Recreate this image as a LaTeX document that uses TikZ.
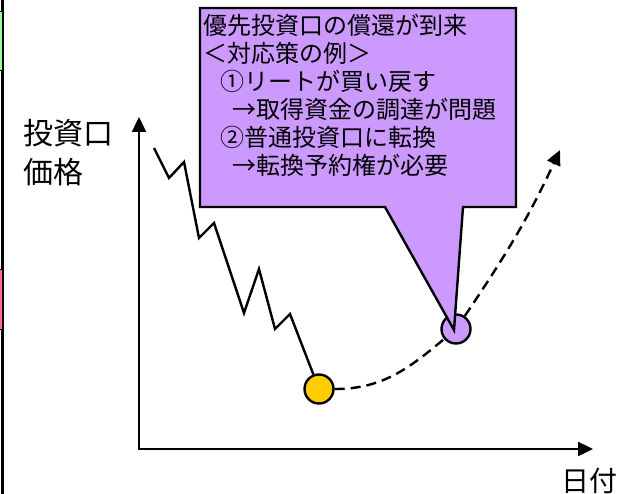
\documentclass[tikz,border=0pt]{standalone}
\usepackage{fontspec}
\setmainfont{Noto Sans CJK JP}
\usetikzlibrary{arrows.meta}
\definecolor{notepurple}{HTML}{CC99FF}
\definecolor{dotyellow}{HTML}{FFCC00}
\definecolor{edgegreen}{HTML}{99FF99}
\definecolor{edgepink}{HTML}{FF6699}
\def\tipsize{Triangle[length=15pt,width=14pt]}
\def\dotsize{29pt}

\begin{document}
\begin{tikzpicture}[x=1pt,y=-1pt,line width=2.4pt]
    \useasboundingbox (0,0) rectangle (628,494);

    % cut edges on the left
    \draw (2.5,0) -- (2.5,494);
    \filldraw[fill=edgegreen,line width=1pt] (-2,12) rectangle (2.5,71);
    \filldraw[fill=edgepink,line width=1pt] (-2,269) rectangle (2.5,329);

    % axes
    \coordinate (origin) at (139,449);
    \coordinate (ytop) at (139,117);
    \coordinate (xend) at (593,449);
    \draw[{\tipsize}-{\tipsize}] (ytop) -- (origin) -- (xend);
    \node[anchor=north west,inner sep=0,align=left,
          font=\fontsize{30}{39}\selectfont] (ylabel) at (22,118) {投資口\\価格};
    \node[anchor=north west,inner sep=0,
          font=\fontsize{28}{34}\selectfont] (xlabel) at (560,467) {日付};

    % price path
    \node[circle,draw,fill=dotyellow,inner sep=0,minimum size=\dotsize] (low) at (319,389) {};
    \node[circle,draw,fill=notepurple,inner sep=0,minimum size=\dotsize] (swap) at (456,329) {};
    \coordinate (start) at (154,148);
    \coordinate (future) at (560,150);
    \draw (start) -- (169,178) -- (184,162) -- (199,238) -- (214,223) -- (244,313)
        -- (259,269) -- (275,329) -- (290,314) -- (low);
    \draw[dash pattern=on 10pt off 6pt] (low) to[out=0,in=220] (swap);
    \draw[dash pattern=on 10pt off 6pt,-{\tipsize}] (swap) to[out=56,in=245] (future);

    % callout
    \filldraw[fill=notepurple] (200,8) -- (516,8) -- (516,207) -- (463,207)
        -- (454,330) -- (385,207) -- (200,207) -- cycle;
    \node[anchor=north west,inner sep=0,align=left,
          font=\fontsize{24}{28}\selectfont] (note) at (202,13)
        {優先投資口の償還が到来\\
         ＜対応策の例＞\\
         \hspace*{17pt}①リートが買い戻す\\
         \hspace*{29pt}→取得資金の調達が問題\\
         \hspace*{17pt}②普通投資口に転換\\
         \hspace*{29pt}→転換予約権が必要};
\end{tikzpicture}
\end{document}
